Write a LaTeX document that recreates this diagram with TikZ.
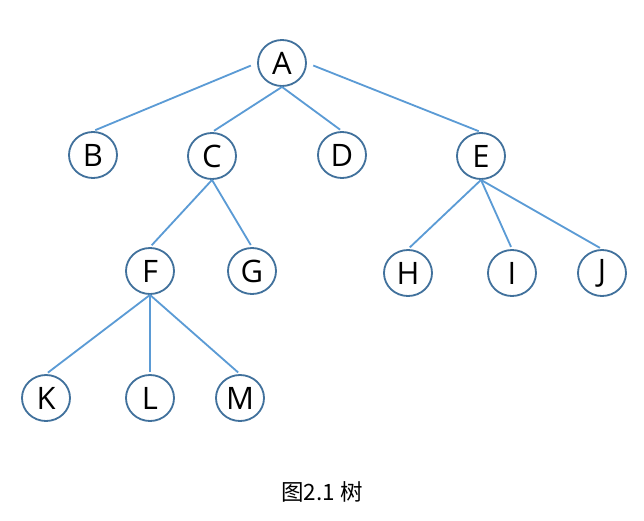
\documentclass[tikz,border=0pt]{standalone}
\usepackage{fontspec}
\setmainfont{Open Sans}
\newfontfamily\cjkfont{Noto Sans CJK SC}
\usetikzlibrary{shapes.geometric}
\definecolor{nodecolor}{RGB}{65,113,156}
\definecolor{edgecolor}{RGB}{91,155,213}

\begin{document}
\begin{tikzpicture}[
    x=0.025cm, y=-0.025cm,
    treenode/.style={ellipse, draw=nodecolor, line width=1.3pt, inner sep=0pt,
                     minimum width=1.2cm, minimum height=1.15cm,
                     font=\fontsize{22}{26}\selectfont},
    treeedge/.style={draw=edgecolor, line width=1.3pt, shorten >=0.06cm}
]
\useasboundingbox (0,0) rectangle (644,520);

\node[treenode] (A) at (282,63) {A};
\node[treenode] (B) at (93,155) {B};
\node[treenode] (C) at (212,156) {C};
\node[treenode] (D) at (342,155) {D};
\node[treenode] (E) at (481,156) {E};
\node[treenode] (F) at (150,271) {F};
\node[treenode] (G) at (252,271) {G};
\node[treenode] (H) at (408,273) {H};
\node[treenode] (I) at (512,273) {I};
\node[treenode] (J) at (602,273) {J};
\node[treenode] (K) at (46,398) {K};
\node[treenode] (L) at (150,398) {L};
\node[treenode] (M) at (240,398) {M};

\draw[treeedge, shorten <=0.17cm] (A.west) -- (B.north);
\draw[treeedge] (A.south) -- (C.north);
\draw[treeedge] (A.south) -- (D.north);
\draw[treeedge, shorten <=0.17cm] (A.east) -- (E.north);
\draw[treeedge] (C.south) -- (F.north);
\draw[treeedge] (C.south) -- (G.north);
\draw[treeedge] (E.south) -- (H.north);
\draw[treeedge] (E.south) -- (I.north);
\draw[treeedge] (E.south) -- (J.north);
\draw[treeedge] (F.south) -- (K.north);
\draw[treeedge] (F.south) -- (L.north);
\draw[treeedge] (F.south) -- (M.north);

\node (caption) at (322,492) {\cjkfont\fontsize{16}{19}\selectfont 图2.1 树};
\end{tikzpicture}
\end{document}
